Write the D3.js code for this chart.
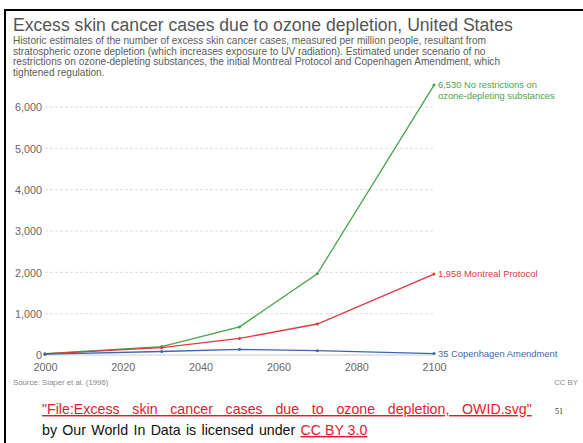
<!DOCTYPE html>
<html><head><meta charset="utf-8">
<script src="https://cdn.jsdelivr.net/npm/d3@7"></script>
<style>
html,body{margin:0;padding:0;background:#fff;}
svg{display:block;}
</style></head>
<body>
<script>
const years = [2000, 2030, 2050, 2070, 2100];
const noRestrictions = [30, 205, 680, 1965, 6530];
const montreal = [25, 178, 400, 750, 1958];
const copenhagen = [20, 85, 138, 105, 35];
const seriesNames = ["No restrictions on ozone-depleting substances", "Montreal Protocol", "Copenhagen Amendment"];
const seriesColors = ["#49a54d", "#df3a3f", "#3a66b3"];
const yTicks = [0, 1000, 2000, 3000, 4000, 5000, 6000];
const xTicks = [2000, 2020, 2040, 2060, 2080, 2100];

const W = 583, H = 443;
const svg = d3.select("body").append("svg").attr("width", W).attr("height", H);
svg.append("rect").attr("width", W).attr("height", H).attr("fill", "#fff");

// slide frame
svg.append("line").attr("x1", 4).attr("x2", W).attr("y1", 10).attr("y2", 10).attr("stroke", "#000").attr("stroke-width", 2);
svg.append("line").attr("x1", 5).attr("x2", 5).attr("y1", 9).attr("y2", H).attr("stroke", "#000").attr("stroke-width", 2);

const font = "Liberation Sans, Arial, sans-serif";
svg.append("text").attr("x", 13).attr("y", 31).attr("font-family", font).attr("font-size", 17.6).attr("fill", "#555")
  .text("Excess skin cancer cases due to ozone depletion, United States");
const sub = [
  "Historic estimates of the number of excess skin cancer cases, measured per million people, resultant from",
  "stratospheric ozone depletion (which increases exposure to UV radiation). Estimated under scenario of no",
  "restrictions on ozone-depleting substances, the initial Montreal Protocol and Copenhagen Amendment, which",
  "tightened regulation."
];
sub.forEach((s, i) => svg.append("text").attr("x", 13).attr("y", 44 + i * 10.7).attr("font-family", font)
  .attr("font-size", 10.1).attr("fill", "#5b5b5b").text(s));

const x = d3.scaleLinear().domain([2000, 2100]).range([45, 434]);
const y = d3.scaleLinear().domain([0, 6000]).range([355, 107]);

// grid
const yAxis = d3.axisLeft(y).tickValues(yTicks).tickFormat(d3.format(",")).tickSize(0);
const gy = svg.append("g").attr("transform", "translate(42,0)").call(yAxis);
gy.select(".domain").remove();
gy.selectAll("text").attr("font-family", font).attr("font-size", 10.8).attr("fill", "#666").attr("x", 0).attr("dy", "0.35em");
svg.append("g").selectAll("line").data(yTicks.filter(d => d > 0)).join("line")
  .attr("x1", 45).attr("x2", 434).attr("y1", d => y(d)).attr("y2", d => y(d))
  .attr("stroke", "#ddd").attr("stroke-dasharray", "3,2").attr("stroke-width", 1);
svg.append("line").attr("x1", 45).attr("x2", 434).attr("y1", y(0)).attr("y2", y(0)).attr("stroke", "#ccc").attr("stroke-width", 1);

const xAxis = d3.axisBottom(x).tickValues(xTicks).tickFormat(d3.format("d")).tickSize(0);
const gx = svg.append("g").attr("transform", "translate(0,360)").call(xAxis);
gx.select(".domain").remove();
gx.selectAll("text").attr("font-family", font).attr("font-size", 10.8).attr("fill", "#666").attr("dy", "0.71em");

const allSeries = [noRestrictions, montreal, copenhagen];
const line = d3.line().x((d, i) => x(years[i])).y(d => y(d));
allSeries.forEach((vals, k) => {
  svg.append("path").attr("d", line(vals)).attr("fill", "none").attr("stroke", seriesColors[k]).attr("stroke-width", 1.3);
  svg.append("g").selectAll("circle").data(vals).join("circle")
    .attr("cx", (d, i) => x(years[i])).attr("cy", d => y(d)).attr("r", 1.5).attr("fill", seriesColors[k]);
});

// end labels
const fmt = d3.format(",");
const lblX = x(2100) + 4;
const lfs = 9.4;
const g0 = svg.append("text").attr("x", lblX).attr("y", y(noRestrictions[4]) + 3).attr("font-family", font).attr("font-size", lfs).attr("fill", seriesColors[0]);
g0.append("tspan").text(fmt(noRestrictions[4]) + " No restrictions on");
g0.append("tspan").attr("x", lblX).attr("dy", 10.5).text("ozone-depleting substances");
svg.append("text").attr("x", lblX).attr("y", y(montreal[4]) + 3).attr("font-family", font).attr("font-size", lfs).attr("fill", seriesColors[1])
  .text(fmt(montreal[4]) + " " + seriesNames[1]);
svg.append("text").attr("x", lblX).attr("y", y(copenhagen[4]) + 3).attr("font-family", font).attr("font-size", lfs).attr("fill", seriesColors[2])
  .text(fmt(copenhagen[4]) + " " + seriesNames[2]);

svg.append("text").attr("x", 13).attr("y", 385).attr("font-family", font).attr("font-size", 7.8).attr("fill", "#888").text("Source: Slaper et al. (1996)");
svg.append("text").attr("x", 578).attr("y", 385).attr("text-anchor", "end").attr("font-family", font).attr("font-size", 7.8).attr("fill", "#888").text("CC BY");

// slide caption
svg.append("text").attr("x", 42).attr("y", 414).attr("font-family", font).attr("font-size", 14.2).attr("fill", "#e8172f")
  .attr("text-decoration", "underline").attr("word-spacing", 8.8)
  .text("\"File:Excess skin cancer cases due to\u00a0ozone depletion, OWID.svg\"");
svg.append("text").attr("x", 555).attr("y", 414).attr("font-family", "Liberation Serif, serif").attr("font-size", 8).attr("fill", "#333").text("51");
const c2 = svg.append("text").attr("x", 42).attr("y", 435).attr("font-family", font).attr("font-size", 14.2).attr("fill", "#111").attr("word-spacing", 1.4);
c2.append("tspan").text("by Our World In Data is licensed under ");
c2.append("tspan").attr("fill", "#e8172f").attr("text-decoration", "underline").attr("word-spacing", 0).text("CC BY 3.0");
</script>
</body></html>
